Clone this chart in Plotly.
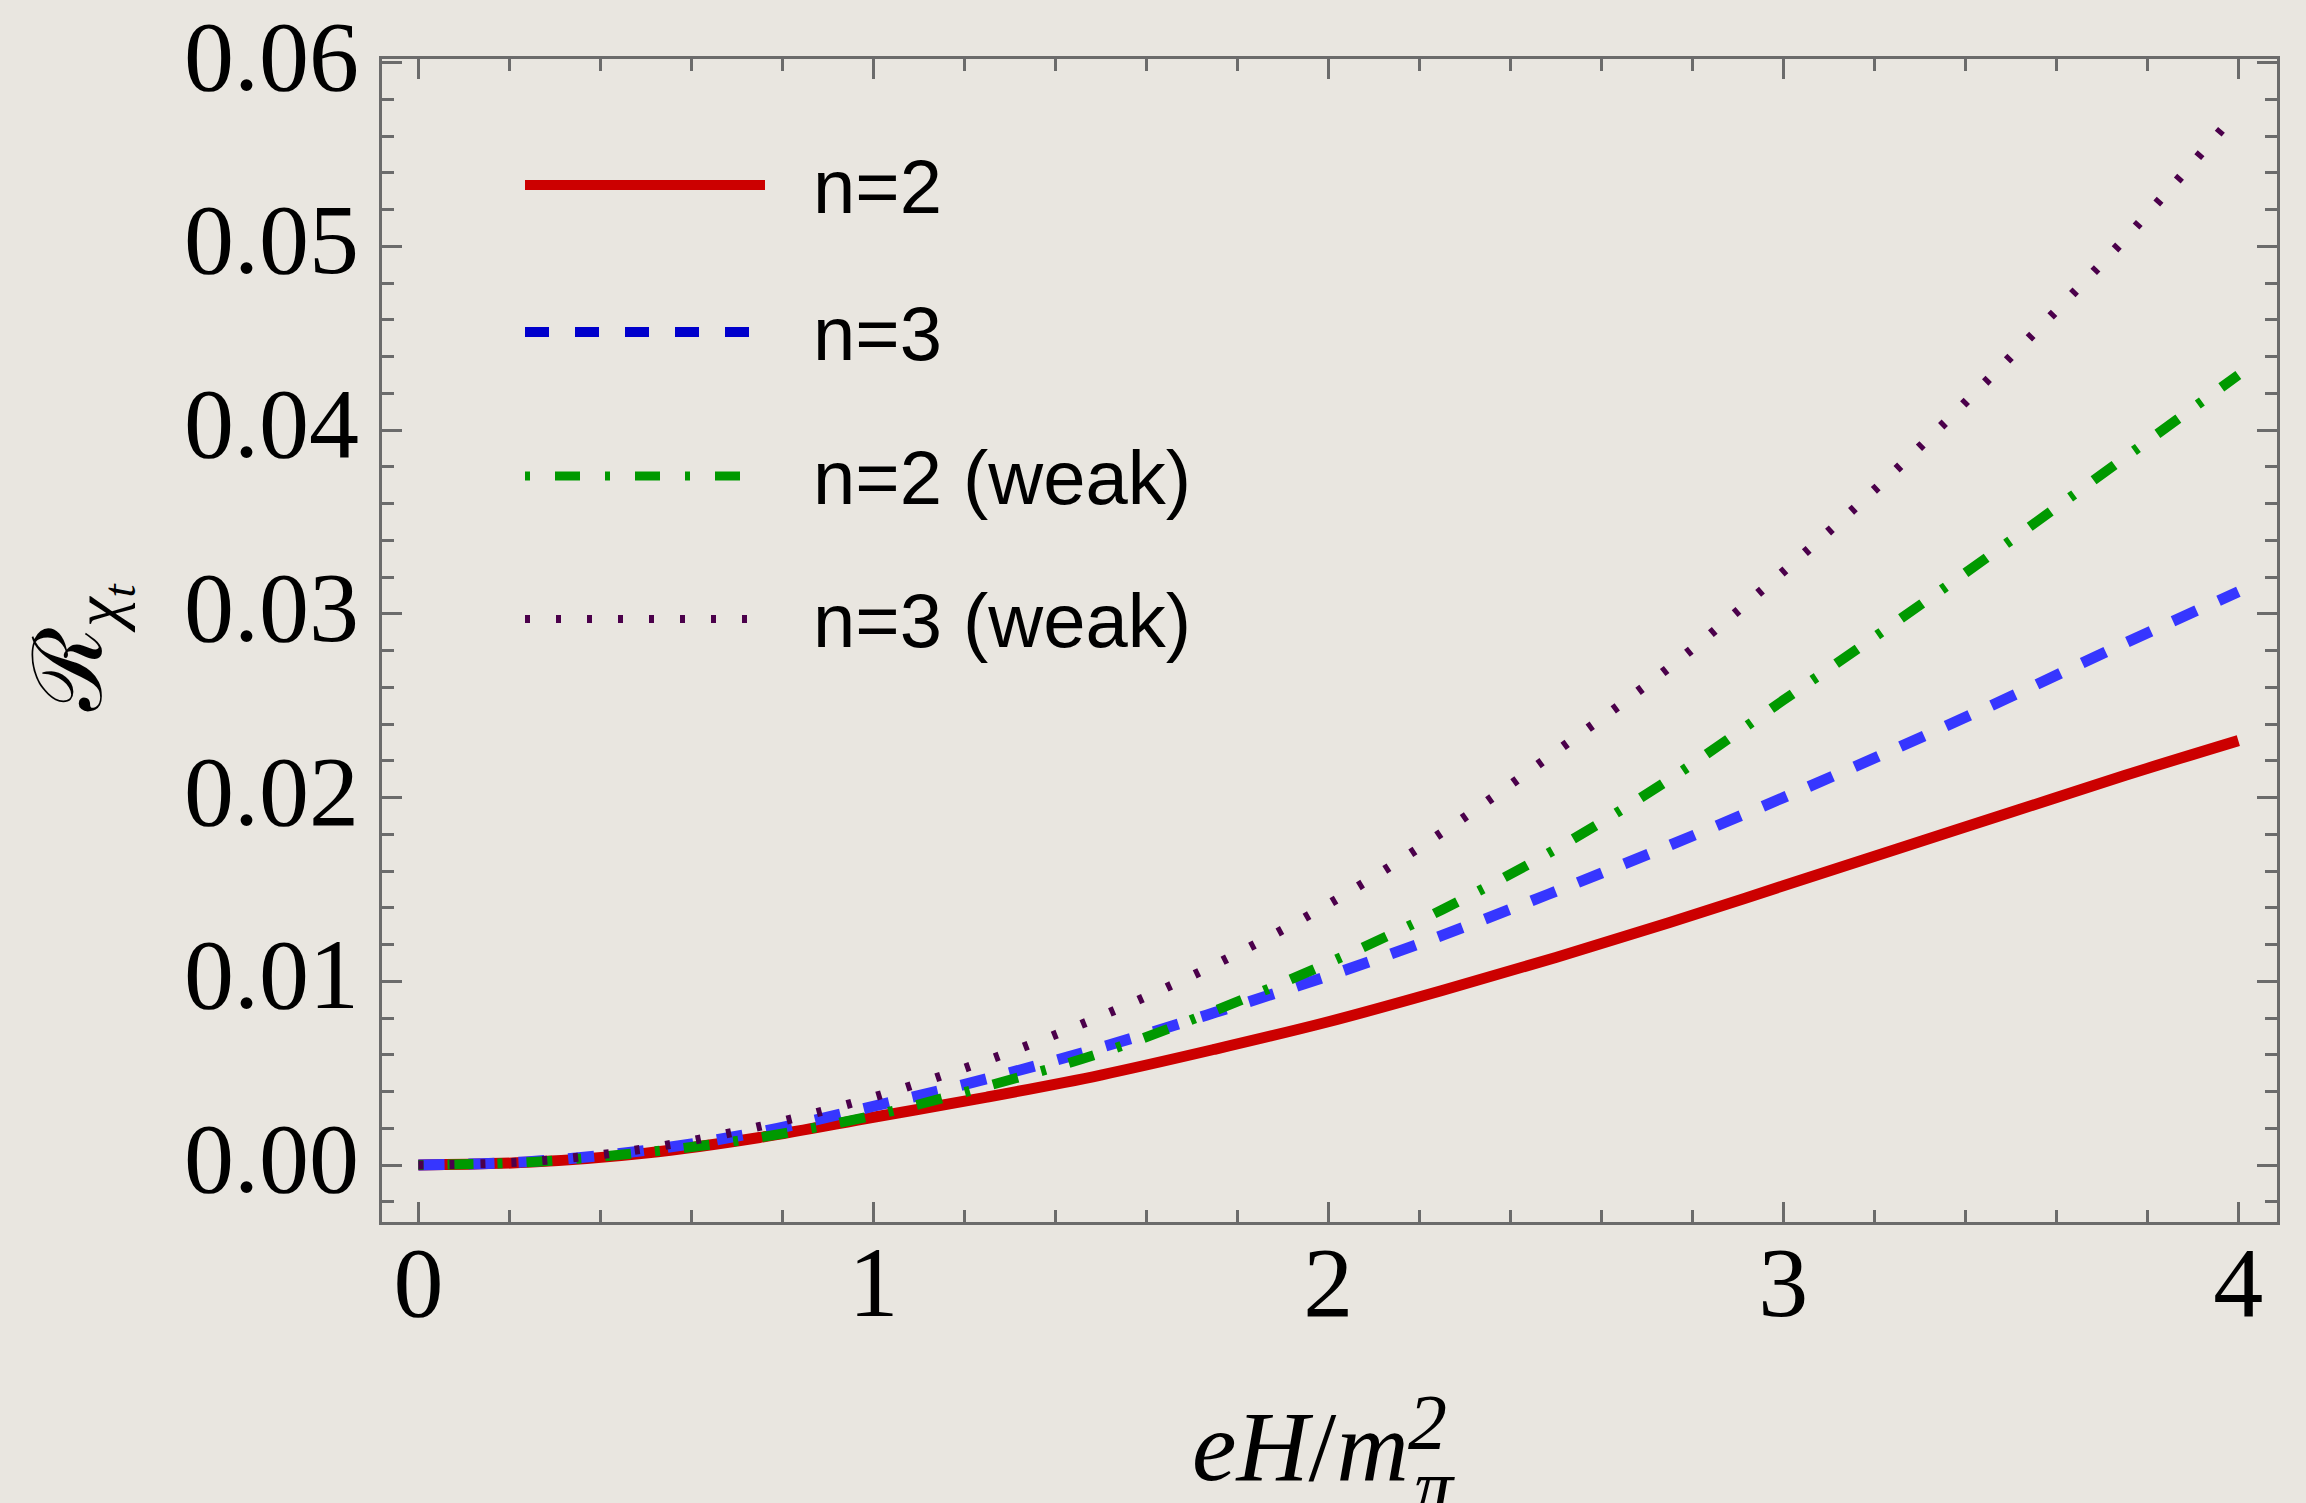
import plotly.graph_objects as go

# ---------------- data ----------------
eH = [0, 0.25, 0.5, 0.75, 1, 1.25, 1.5, 1.75, 2, 2.25, 2.5, 2.75, 3, 3.25, 3.5, 3.75, 4]
r_n2 = [0, 0.00016, 0.00065, 0.0015, 0.0026, 0.0037, 0.0049, 0.0063, 0.0078, 0.0095,
        0.0113, 0.0132, 0.0152, 0.0172, 0.0192, 0.0212, 0.0231]
r_n3 = [0, 0.0002, 0.0008, 0.0018, 0.0032, 0.0047, 0.0064, 0.0083, 0.0103, 0.0125,
        0.0149, 0.0174, 0.0200, 0.0227, 0.0255, 0.0284, 0.0312]
r_n2_weak = [0, 0.00017, 0.0007, 0.0015, 0.0027, 0.0043, 0.0061, 0.0084, 0.0110, 0.0139,
             0.0172, 0.0210, 0.0253, 0.0296, 0.0340, 0.0385, 0.0430]
r_n3_weak = [0, 0.0002, 0.0009, 0.0021, 0.0037, 0.0057, 0.0081, 0.0109, 0.0142, 0.0181,
             0.0225, 0.0271, 0.0323, 0.0379, 0.0440, 0.0504, 0.0574]

series_names = ["n=2", "n=3", "n=2 (weak)", "n=3 (weak)"]
x_ticks = [0, 1, 2, 3, 4]
y_ticks = [0.00, 0.01, 0.02, 0.03, 0.04, 0.05, 0.06]
y_tick_labels = ["0.00", "0.01", "0.02", "0.03", "0.04", "0.05", "0.06"]

# ---------------- styling ----------------
W, H = 2306, 1503
ML, MR, MT, MB = 382, 29, 59, 281
PW, PH = W - ML - MR, H - MT - MB
BG = "#E9E6E0"
FRAME = "#6B6B6B"
SERIF = "Liberation Serif, Times New Roman, serif"
SANS = "Liberation Sans, Arial, Helvetica, sans-serif"

curve_styles = [
    dict(color="#CC0000", width=11, dash="solid"),
    dict(color="#3636FF", width=11, dash="26px,24px"),
    dict(color="#009900", width=10, dash="5px,24px,26px,24px"),
    dict(color="#4B004B", width=9, dash="5px,26px"),
]
legend_styles = [
    dict(color="#CC0000", width=10, dash="solid"),
    dict(color="#0000CC", width=10, dash="24px,26px"),
    dict(color="#009900", width=9, dash="5px,25px,25px,25px"),
    dict(color="#4B004B", width=8, dash="5px,26px"),
]


def px_x(px):
    return (px - ML) / PW


def px_y(py):
    return (H - MB - py) / PH


fig = go.Figure()
for name, ys, st in zip(series_names, [r_n2, r_n3, r_n2_weak, r_n3_weak], curve_styles):
    fig.add_trace(go.Scatter(x=eH, y=ys, mode="lines", name=name, showlegend=False,
                             line=dict(color=st["color"], width=st["width"], dash=st["dash"],
                                       shape="spline", smoothing=1.0)))

# ---------------- manual legend ----------------
legend_rows = [185, 332, 476, 619]
shapes = []
annotations = []
for name, row, st in zip(series_names, legend_rows, legend_styles):
    shapes.append(dict(type="line", xref="paper", yref="paper",
                       x0=px_x(525), x1=px_x(765), y0=px_y(row), y1=px_y(row),
                       line=dict(color=st["color"], width=st["width"], dash=st["dash"])))
    annotations.append(dict(xref="paper", yref="paper", x=px_x(811), y=px_y(row + 1),
                            xanchor="left", yanchor="middle", showarrow=False, text=name,
                            font=dict(family=SANS, size=76, color="black")))

# ---------------- axis titles ----------------
annotations.append(dict(xref="paper", yref="paper", x=px_x(1190), y=px_y(1446),
                        xanchor="left", yanchor="middle", showarrow=False,
                        text="<i>eH</i>/<i>m</i>",
                        font=dict(family=SERIF, size=100, color="black")))
annotations.append(dict(xref="paper", yref="paper", x=px_x(1427), y=px_y(1421),
                        xanchor="center", yanchor="middle", showarrow=False,
                        text="<i>2</i>",
                        font=dict(family=SERIF, size=78, color="black")))
annotations.append(dict(xref="paper", yref="paper", x=px_x(1434), y=px_y(1486),
                        xanchor="center", yanchor="middle", showarrow=False,
                        text="<i>π</i>",
                        font=dict(family=SERIF, size=78, color="black")))
annotations.append(dict(xref="paper", yref="paper", x=px_x(80), y=px_y(648),
                        xanchor="center", yanchor="middle", showarrow=False, textangle=-90,
                        text="ℛ<sub><i>χ</i><sub><i>t</i></sub></sub>",
                        font=dict(family=SERIF, size=96, color="black")))

axis_common = dict(
    showgrid=False, zeroline=False, automargin=False,
    showline=True, linecolor=FRAME, linewidth=3, mirror="allticks",
    ticks="inside", ticklen=20, tickwidth=3, tickcolor=FRAME,
    tickfont=dict(family=SERIF, size=100, color="black"),
)

fig.update_layout(
    width=W, height=H,
    margin=dict(l=ML, r=MR, t=MT, b=MB, pad=0, autoexpand=False),
    paper_bgcolor=BG, plot_bgcolor=BG,
    showlegend=False,
    shapes=shapes,
    annotations=annotations,
    xaxis=dict(range=[-0.08, 4.085], tickmode="array", tickvals=x_ticks,
               ticktext=[str(v) for v in x_ticks], ticklabelstandoff=-29,
               minor=dict(dtick=0.2, tick0=0, ticks="inside", ticklen=12, tickwidth=3,
                          tickcolor=FRAME, showgrid=False),
               **axis_common),
    yaxis=dict(range=[-0.0031, 0.0602], tickmode="array", tickvals=y_ticks,
               ticktext=y_tick_labels, ticklabelstandoff=0, ticklabelshift=-8,
               minor=dict(dtick=0.002, tick0=0, ticks="inside", ticklen=12, tickwidth=3,
                          tickcolor=FRAME, showgrid=False),
               **axis_common),
)

fig.write_html("out.html",
               config={"displayModeBar": False},
               post_script="document.body.style.margin='0px';"
                           "document.body.style.overflow='hidden';")
